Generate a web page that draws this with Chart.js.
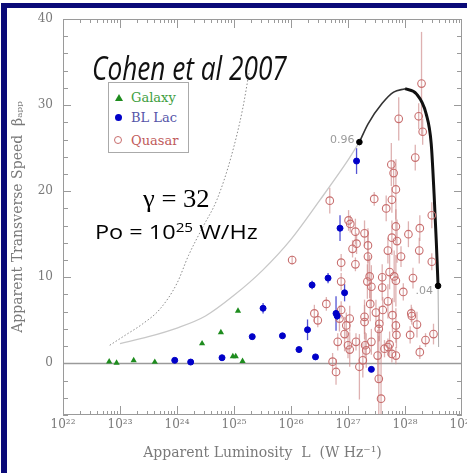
<!DOCTYPE html>
<html>
<head>
<meta charset="utf-8">
<script src="https://cdn.jsdelivr.net/npm/chart.js@4.4.0/dist/chart.umd.min.js"></script>
<style>
  body { margin: 0; background: #fff; }
  #wrap { position: relative; width: 467px; height: 473px; overflow: hidden; background: #fff; }
  #chart { position: absolute; left: 0; top: 0; }
  #frame { position: absolute; left: 1px; top: 3px; right: -10px; bottom: -10px;
           border-left: 6px solid #0a0a78; border-top: 5px solid #0a0a78; pointer-events: none; }
  .note { position: absolute; white-space: nowrap; line-height: 1; transform-origin: 0 0; color: #000; }
  #cohen { left: 92px; top: 46px; font: italic 32px "Open Sans"; color: #111; }
  #gamma { left: 143px; top: 186px; font-family: "Liberation Serif", "Times New Roman", "DejaVu Serif", serif; font-size: 25px; }
  #po { left: 95px; top: 218px; font: 20px "Open Sans"; }
  #po sup { font-size: 13px; vertical-align: 7px; line-height: 0; }
  #legend { position: absolute; left: 108px; top: 82px; width: 79px; height: 69px;
            border: 1px solid #aaa; background: #fff; font: 13px "DejaVu Serif"; }
  #legend .row { position: absolute; left: 22px; line-height: 1; }
  #legend .sym { position: absolute; left: 6px; }
  .tri { width: 0; height: 0; border-left: 4px solid transparent; border-right: 4px solid transparent;
         border-bottom: 7px solid #1e8c1e; }
  .dot { width: 7px; height: 7px; border-radius: 50%; background: #0000c8; }
  .ring { width: 6px; height: 6px; border-radius: 50%; border: 1.2px solid #c86e6e; }
</style>
</head>
<body>
<div id="wrap">
  <canvas id="chart" width="467" height="473"></canvas>
  <div id="legend">
    <div class="sym tri" style="top:11px"></div>
    <div class="row" style="top:8px;color:#3e9e3e">Galaxy</div>
    <div class="sym dot" style="top:31px"></div>
    <div class="row" style="top:28px;color:#5555a8">BL Lac</div>
    <div class="sym ring" style="top:53px;left:5px"></div>
    <div class="row" style="top:51px;color:#c05a5a">Quasar</div>
  </div>
  <div class="note" id="cohen">Cohen et al 2007</div>
  <div class="note" id="gamma">γ = 32</div>
  <div class="note" id="po">Po = 10<sup>25</sup> W/Hz</div>
  <div id="frame"></div>
</div>
<script>
// luminosities are stored as log10(L / W Hz^-1), speeds as beta_app
const galaxyL    = [22.81, 22.94, 23.24, 23.61, 24.44, 24.77, 25.07, 24.98, 25.03, 25.15];
const galaxyBeta = [0.2, 0.05, 0.35, 0.15, 2.3, 3.6, 6.1, 0.8, 0.8, 0.25];

const blLacL    = [23.96, 24.24, 24.79, 25.32, 25.51, 25.85, 26.14, 26.29, 26.43, 26.37, 26.65, 26.94, 26.79, 26.81, 26.86, 27.15, 27.41];
const blLacBeta = [0.35, 0.15, 0.65, 3.1, 6.4, 3.2, 1.6, 3.9, 0.75, 9.1, 9.9, 8.2, 5.8, 5.5, 15.7, 23.5, -0.7];
const blLacErr  = [0.2, 0.2, 0.3, 0.3, 0.6, 0.3, 0.3, 1.2, 0.3, 0.5, 0.6, 1.0, 2.0, 0.5, 1.5, 1.5, 0.3];

const quasarL = [26.68, 27.46, 26.02, 27.76, 27.80, 28.18, 27.84, 27.77, 27.67, 28.47,
  27.01, 27.04, 27.13, 27.29, 27.08, 27.15, 27.84, 27.77, 27.86, 28.06,
  28.26, 28.25, 27.70, 27.93, 27.35, 27.35, 26.88, 27.13, 28.47, 27.38,
  27.60, 27.73, 27.81, 27.84, 28.14, 26.88, 27.34, 27.41, 27.60, 27.97,
  26.62, 27.39, 27.70, 27.49, 27.61, 26.88, 26.41, 27.03, 27.29, 27.78,
  28.11, 26.47, 26.85, 26.97, 26.94, 26.82, 27.00, 27.03, 27.14, 27.29,
  27.30, 27.32, 27.41, 27.55, 27.54, 27.85, 27.84, 27.64, 27.70, 27.73,
  27.77, 27.84, 28.12, 28.21, 28.09, 28.36, 28.50, 28.26, 27.52, 27.26,
  27.20, 26.73, 26.79, 27.54, 27.58, 28.29, 27.89, 28.24, 28.31];
const quasarBeta = [18.9, 19.1, 12.0, 23.1, 22.1, 23.9, 20.2, 19.0, 18.0, 17.2,
  16.6, 16.2, 15.3, 15.1, 13.3, 13.9, 15.9, 14.6, 14.2, 15.0,
  15.7, 13.1, 13.1, 12.4, 13.7, 12.4, 11.7, 11.5, 11.8, 10.1,
  10.0, 10.6, 10.1, 9.6, 9.9, 9.5, 9.5, 8.9, 8.8, 8.3,
  6.9, 6.9, 7.2, 5.9, 6.2, 6.2, 5.8, 5.2, 5.4, 5.6,
  5.8, 5.0, 5.2, 4.4, 3.4, 2.5, 2.1, 1.6, 2.5, 4.8,
  2.1, 1.5, 2.5, 4.6, 4.0, 3.3, 4.4, 1.7, 1.9, 2.2,
  1.1, 0.9, 5.5, 4.5, 3.3, 2.7, 3.4, 1.3, 0.9, 0.35,
  -0.4, 0.2, -1.0, -1.8, -4.1, 32.5, 28.4, 28.7, 26.9];
const quasarErr = [1.5, 0.8, 0.5, 2.5, 1.5, 1.5, 3.5, 1.5, 1.5, 1.5,
  1.2, 1.0, 1.5, 1.5, 1.0, 1.2, 2.0, 2.0, 2.5, 1.5,
  1.5, 1.5, 1.5, 1.2, 2.0, 3.0, 1.0, 0.8, 1.0, 2.5,
  1.5, 2.0, 3.0, 3.0, 1.2, 1.0, 2.0, 2.5, 1.5, 1.0,
  0.8, 2.0, 2.0, 1.5, 1.5, 1.0, 1.0, 1.5, 2.0, 2.0,
  1.0, 0.8, 1.5, 1.5, 2.0, 1.0, 1.5, 2.0, 1.0, 2.0,
  1.5, 2.0, 1.5, 2.0, 1.5, 1.5, 2.0, 1.0, 1.0, 1.5,
  1.0, 1.0, 1.0, 1.5, 1.0, 0.8, 1.2, 0.8, 3.0, 2.0,
  3.8, 1.0, 1.5, 5.0, 8.0, 6.0, 2.5, 1.5, 1.5];

// model curves
const dottedL    = [22.82, 23.1, 23.4, 23.7, 24.0, 24.2, 24.45, 24.7, 24.95, 25.15, 25.27];
const dottedBeta = [2.1, 3.3, 4.6, 6.3, 9.3, 12.5, 15.8, 19.0, 24.0, 29.5, 34.0];
const envL    = [23.0, 23.5, 24.0, 24.5, 25.0, 25.5, 26.0, 26.5, 27.0, 27.2];
const envBeta = [2.3, 3.1, 4.1, 5.5, 7.9, 10.8, 14.4, 18.9, 23.6, 25.7];
const riseL    = [27.2, 27.35, 27.6, 27.8, 28.0];
const riseBeta = [25.7, 27.8, 30.2, 31.5, 31.9];
const fallL    = [28.0, 28.2, 28.37, 28.46, 28.51, 28.55, 28.58];
const fallBeta = [31.9, 31.3, 29.0, 25.5, 19.7, 14.0, 9.0];
const tailL    = [28.58, 28.59];
const tailBeta = [9.0, 1.9];

const markL    = [27.2, 28.58];
const markBeta = [25.7, 9.0];
const markText = ['0.96', '.04'];

const xTickExp = [22, 23, 24, 25, 26, 27, 28, 29];
const yTickVals = [0, 10, 20, 30, 40];

const SUP = {'0':'⁰','1':'¹','2':'²','3':'³','4':'⁴','5':'⁵','6':'⁶','7':'⁷','8':'⁸','9':'⁹'};
const sup = n => String(n).split('').map(c => SUP[c]).join('');
const pts = (xs, ys) => xs.map((e, i) => ({x: Math.pow(10, e), y: ys[i]}));

function drawErr(ctx, sx, sy, xs, ys, es, color) {
  ctx.strokeStyle = color;
  ctx.lineWidth = 1.3;
  xs.forEach((e, i) => {
    const px = sx.getPixelForValue(Math.pow(10, e));
    ctx.beginPath();
    ctx.moveTo(px, sy.getPixelForValue(ys[i] - es[i]));
    ctx.lineTo(px, sy.getPixelForValue(ys[i] + es[i]));
    ctx.stroke();
  });
}

const framePlugin = {
  id: 'frame',
  beforeDatasetsDraw(chart) {
    const {ctx, chartArea: a, scales: {x, y}} = chart;
    ctx.save();
    ctx.beginPath();
    ctx.rect(a.left, a.top, a.right - a.left, a.bottom - a.top);
    ctx.clip();
    const y0 = Math.round(y.getPixelForValue(0)) + 0.5;
    ctx.strokeStyle = '#9a9a9a';
    ctx.lineWidth = 1.5;
    ctx.beginPath(); ctx.moveTo(a.left, y0); ctx.lineTo(a.right, y0); ctx.stroke();
    drawErr(ctx, x, y, quasarL, quasarBeta, quasarErr, 'rgba(205,135,135,0.65)');
    drawErr(ctx, x, y, blLacL, blLacBeta, blLacErr, 'rgba(40,40,200,0.8)');
    ctx.restore();
  },
  afterDatasetsDraw(chart) {
    const {ctx, chartArea: a, scales: {x, y}} = chart;
    ctx.save();
    ctx.strokeStyle = '#9a9a9a';
    ctx.lineWidth = 1;
    ctx.strokeRect(a.left + 0.5, a.top + 0.5, a.right - a.left - 1, a.bottom - a.top - 1);
    ctx.beginPath();
    // y ticks every 2, on both sides
    for (let v = y.min; v <= y.max; v += 2) {
      const py = Math.round(y.getPixelForValue(v)) + 0.5;
      const len = v % 10 === 0 ? 8 : 5;
      ctx.moveTo(a.left, py); ctx.lineTo(a.left + len, py);
      ctx.moveTo(a.right, py); ctx.lineTo(a.right - len, py);
    }
    // log ticks on top and bottom
    for (let d = xTickExp[0]; d < xTickExp[xTickExp.length - 1]; d++) {
      for (let m = 1; m <= 9; m++) {
        const px = Math.round(x.getPixelForValue(m * Math.pow(10, d))) + 0.5;
        const len = m === 1 ? 9 : 4;
        ctx.moveTo(px, a.bottom); ctx.lineTo(px, a.bottom - len);
        ctx.moveTo(px, a.top); ctx.lineTo(px, a.top + len);
      }
    }
    ctx.stroke();
    // labels beside the two marked points
    ctx.fillStyle = '#9a9a9a';
    ctx.font = '11px "DejaVu Sans"';
    ctx.textAlign = 'right';
    ctx.textBaseline = 'middle';
    markL.forEach((e, i) => {
      const px = x.getPixelForValue(Math.pow(10, e));
      const py = y.getPixelForValue(markBeta[i]);
      ctx.fillText(markText[i], px - 5, py + (i === 0 ? -2 : 5));
    });
    ctx.restore();
  }
};

const curve = (xs, ys, color, width, dash, order) => ({
  type: 'line', data: pts(xs, ys), borderColor: color, borderWidth: width,
  borderDash: dash, pointRadius: 0, fill: false, cubicInterpolationMode: 'monotone', order
});

new Chart(document.getElementById('chart'), {
  type: 'scatter',
  data: {
    datasets: [
      {label: 'marks', data: pts(markL, markBeta), pointRadius: 2.8, backgroundColor: '#000', borderColor: '#000', order: 0},
      {label: 'BL Lac', data: pts(blLacL, blLacBeta), pointRadius: 3, backgroundColor: '#0000c8', borderColor: '#0000c8', order: 1},
      {label: 'Galaxy', data: pts(galaxyL, galaxyBeta), pointStyle: 'triangle', pointRadius: 3.6, backgroundColor: '#1e8c1e', borderColor: '#1e8c1e', borderWidth: 0, order: 2},
      {label: 'Quasar', data: pts(quasarL, quasarBeta), pointRadius: 3.8, backgroundColor: 'rgba(255,255,255,0)', borderColor: '#c86e6e', borderWidth: 1.1, order: 3},
      curve(dottedL, dottedBeta, '#8a8a8a', 1, [1.5, 2], 6),
      curve(envL, envBeta, '#c8c8c8', 1.3, [], 6),
      curve(riseL, riseBeta, '#333', 1.6, [], 5),
      curve(fallL, fallBeta, '#111', 3, [], 5),
      curve(tailL, tailBeta, '#aaa', 1, [], 6)
    ]
  },
  options: {
    responsive: false,
    animation: false,
    events: [],
    layout: {autoPadding: false, padding: {left: 0, right: 5, top: 19, bottom: 0}},
    plugins: {legend: {display: false}, tooltip: {enabled: false}},
    scales: {
      x: {
        type: 'logarithmic', min: 1e22, max: 1e29,
        grid: {display: false, drawTicks: false}, border: {display: false},
        afterBuildTicks: s => { s.ticks = xTickExp.map(e => ({value: Math.pow(10, e)})); },
        afterFit: s => { s.height = 58; s.paddingLeft = 0; s.paddingRight = 0; },
        ticks: {
          autoSkip: false, maxRotation: 0, padding: 3, color: '#7a7a7a',
          font: {family: 'DejaVu Serif', size: 12},
          callback: v => '10' + sup(Math.round(Math.log10(v)))
        },
        title: {display: true, text: 'Apparent Luminosity  L  (W Hz⁻¹)', color: '#7a7a7a',
                font: {family: 'DejaVu Serif', size: 14}, padding: {top: 0, bottom: 11}}
      },
      y: {
        min: -6, max: 40,
        grid: {display: false, drawTicks: false}, border: {display: false},
        afterBuildTicks: s => { s.ticks = yTickVals.map(v => ({value: v})); },
        afterFit: s => { s.width = 63; s.paddingTop = 0; s.paddingBottom = 0; },
        ticks: {padding: 10, color: '#7a7a7a', font: {family: 'DejaVu Serif', size: 12}},
        title: {display: true, text: 'Apparent Transverse Speed  βₐₚₚ', color: '#7a7a7a',
                font: {family: 'DejaVu Serif', size: 14}, padding: {top: 10, bottom: 0}}
      }
    }
  },
  plugins: [framePlugin]
});

// squeeze the overlay notes to the widths they have in the slide
function fit(id, w) {
  const el = document.getElementById(id);
  el.style.transform = 'scaleX(' + (w / el.offsetWidth) + ')';
}
fit('cohen', 195);
fit('gamma', 67);
fit('po', 163);
</script>
</body>
</html>
